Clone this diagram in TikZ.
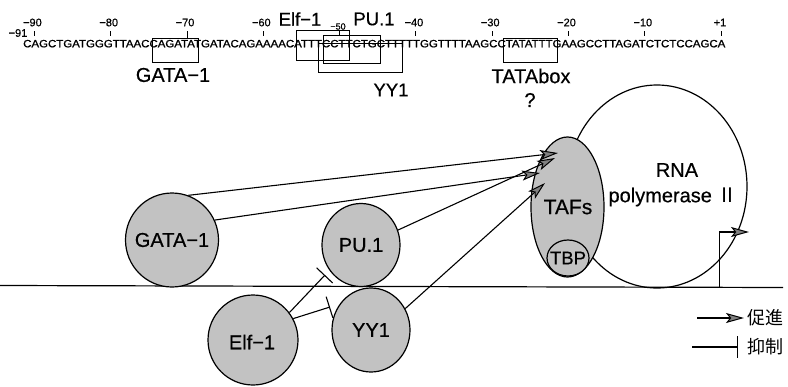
\documentclass[tikz,border=0pt]{standalone}
\usepackage{fontspec}
\usepackage{graphicx}
\setmainfont{Liberation Sans}[FakeBold=0.5]
\newfontfamily\seqfont{Liberation Sans}[FakeBold=1.2]
\newfontfamily\cjk{Noto Sans CJK JP}
\usetikzlibrary{arrows.meta,shapes.geometric}
\begin{document}
\begin{tikzpicture}[x=1pt,y=-1pt,
  protein/.style={ellipse,draw,line width=1.2pt,fill=black!24,inner sep=0pt},
  bigtxt/.style={font=\fontsize{20}{22}\selectfont,inner sep=0pt},
  midtxt/.style={font=\fontsize{18.5}{20}\selectfont,inner sep=0pt},
  num/.style={font=\fontsize{11}{12}\selectfont,inner sep=0pt},
  smallnum/.style={font=\fontsize{9}{10}\selectfont,inner sep=0pt},
  tickline/.style={line width=1pt},
  site/.style={line width=0.9pt},
  act/.style={line width=1.1pt,-{Stealth[length=18pt,width=10pt,inset=4pt,fill=black!50,line width=1pt]}},
  inh/.style={line width=1.1pt,-{Bar[width=22pt]}}]
\useasboundingbox (0,0) rectangle (788,386);

% ---------- sequence ----------
\node[anchor=base west,inner sep=0pt] (seq) at (23,47.3)
  {\resizebox{702pt}{7.4pt}{\seqfont CAGCTGATGGGTTAACCAGATATGATACAGAAAACATTTCCTTCTGCTTTTTGGTTTTAAGCCTATATTTGAAGCCTTAGATCTCTCCAGCA}};

% ticks and position numbers
\foreach \p/\i in {-90/1,-80/11,-60/31,-40/51,-30/61,-20/71,-10/81}{
  \draw[tickline] ({23+7.63*(\i+0.5)},31) -- ({23+7.63*(\i+0.5)},36);
  \node[num] (lab\i) at ({23+7.63*(\i+0.5)-2},22.5) {−\the\numexpr -\p\relax};
}
\draw[tickline] ({23+7.63*21.5},31) -- ({23+7.63*21.5},38);
\node[num] (lab21) at ({23+7.63*21.5-2},22.5) {−70};
\draw[tickline] ({23+7.63*41.5},31) -- ({23+7.63*41.5},35);
\node[smallnum] (lab41) at (338,26.5) {−50};
\draw[tickline] (721.1,31) -- (721.1,36);
\node[num] (labp1) at (720,22.5) {+1};
\node[num] (lab0) at (18,33) {−91};

% binding site boxes
\draw[site] (152.7,38) rectangle (198.5,62);
\draw[site] (296,30) rectangle (349,60);
\draw[site] (323,35) rectangle (380,63);
\draw[site] (318,43) rectangle (402,72);
\draw[site] (503.7,38.5) rectangle (557,62);

% site labels
\node[bigtxt] (lgata) at (173,75) {GATA−1};
\node[midtxt] (lelf) at (300,19) {Elf−1};
\node[midtxt] (lpu) at (374,19) {PU.1};
\node[midtxt] (lyy) at (391,90) {YY1};
\node[bigtxt] (ltata) at (531,76) {TATAbox};
\node[bigtxt] (lq) at (530,100) {?};

% ---------- DNA ----------
\coordinate (dnaL) at (0,285.5);
\coordinate (dnaR) at (783,287.5);
\draw[line width=1.2pt] (dnaL) -- (dnaR);

% ---------- proteins ----------
\node[ellipse,draw,line width=1.2pt,minimum width=180pt,minimum height=203pt,inner sep=0pt] (pol) at (657,186.5) {};
\node[bigtxt] (polt1) at (677,170) {RNA};
\node[bigtxt] (polt2) at (673,197) {polymerase {\cjk Ⅱ}};

\node[protein,minimum width=73pt,minimum height=140pt] (taf) at (567.5,207) {};
\node[bigtxt,font=\fontsize{21}{23}\selectfont] (taft) at (568,207) {TAFs};
\node[protein,minimum width=42pt,minimum height=36pt] (tbp) at (568,258) {};
\node[midtxt] (tbpt) at (568,258) {TBP};

\node[protein,minimum width=93pt,minimum height=94pt] (gata) at (172,240) {};
\node[bigtxt] (gatat) at (gata) {GATA−1};
\node[protein,minimum width=78pt,minimum height=83pt] (pu1) at (361,245) {};
\node[bigtxt] (pu1t) at (pu1) {PU.1};
\node[protein,minimum width=78pt,minimum height=84pt] (yy1) at (371,330) {};
\node[bigtxt] (yy1t) at (yy1) {YY1};
\node[protein,minimum width=90pt,minimum height=90pt] (elf) at (253,340) {};
\node[bigtxt] (elft) at (252,342) {Elf−1};

% ---------- activation arrows ----------
\coordinate (t1) at (558,153);
\coordinate (t2) at (540,173);
\coordinate (t3) at (555,158);
\coordinate (t4) at (545,183);
\draw[act] (gata.70) -- (t1);
\draw[act] (gata.25) -- (t2);
\draw[act] (pu1.22) -- (t3);
\draw[act] (yy1.32) -- (t4);

% ---------- inhibition ----------
\coordinate (b1) at (325,275);
\coordinate (b2) at (330,307);
\draw[inh] (elf.37) -- (b1);
\draw[inh] (elf.28) -- (b2);

% ---------- transcription start ----------
\coordinate (tss) at (719.5,287);
\coordinate (tsse) at (749,232);
\draw[act] (tss) |- (tsse);

% ---------- legend ----------
\coordinate (la1) at (697,318);
\coordinate (la2) at (744,318);
\draw[act] (la1) -- (la2);
\node[anchor=west,inner sep=0pt,font=\cjk\fontsize{18}{20}\selectfont] (lt1) at (747,318) {促進};
\coordinate (li1) at (692,347);
\coordinate (li2) at (738,347);
\draw[inh] (li1) -- (li2);
\node[anchor=west,inner sep=0pt,font=\cjk\fontsize{18}{20}\selectfont] (lt2) at (747,347) {抑制};
\end{tikzpicture}
\end{document}
